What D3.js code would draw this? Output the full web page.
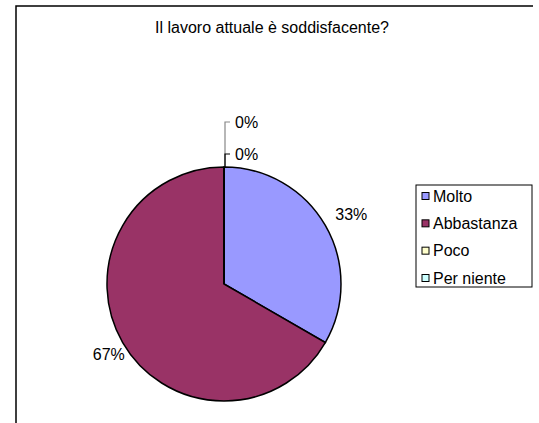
<!DOCTYPE html>
<html>
<head>
<meta charset="utf-8">
<script src="https://cdn.jsdelivr.net/npm/d3@7"></script>
<style>
  body { margin: 0; background: #fff; }
  svg text { font-family: "Liberation Sans", Arial, sans-serif; fill: #000; font-size: 16px; letter-spacing: 0px; }
</style>
</head>
<body>
<svg id="chart" width="539" height="423"></svg>
<script>
// data
var categories = ["Molto", "Abbastanza", "Poco", "Per niente"];
var values = [1, 2, 0, 0];
var colors = ["#9999FF", "#993366", "#FFFFCC", "#CCFFFF"];
var title = "Il lavoro attuale è soddisfacente?";

var svg = d3.select("#chart");
var cx = 224, cy = 284, r = 117;

// open frame (left + top border)
svg.append("path")
    .attr("d", "M16,423V6H533")
    .attr("fill", "none")
    .attr("stroke", "#000")
    .attr("stroke-width", 1.5);

svg.append("text")
    .attr("x", 272).attr("y", 33)
    .attr("text-anchor", "middle")
    .text(title);

var total = d3.sum(values);
var pie = d3.pie().sort(null).value(function (d) { return d; });
var arcs = pie(values);
var arc = d3.arc().innerRadius(0).outerRadius(r);

var g = svg.append("g").attr("transform", "translate(" + cx + "," + cy + ")");

g.selectAll("path.slice")
    .data(arcs)
    .enter().append("path")
    .attr("class", "slice")
    .attr("d", arc)
    .attr("fill", function (d, i) { return colors[i]; })
    .attr("stroke", "#000")
    .attr("stroke-width", 1.5);

var fmt = function (v) { return Math.round(v / total * 100) + "%"; };

// labels for non-empty slices
var labelArc = d3.arc().innerRadius(140).outerRadius(140);
g.selectAll("text.lbl")
    .data(arcs.filter(function (d) { return d.value > 0; }))
    .enter().append("text")
    .attr("class", "lbl")
    .attr("transform", function (d) { return "translate(" + labelArc.centroid(d) + ")"; })
    .attr("text-anchor", "middle")
    .attr("dx", 6)
    .attr("dy", "0.35em")
    .text(function (d) { return fmt(d.value); });

// empty slices: stacked labels on a leader above the pie top
var zeros = arcs.filter(function (d) { return d.value === 0; });
var stackY = [-r - 13, -r - 45];
zeros.slice().reverse().forEach(function (d, k) {
    var y = stackY[k];
    g.append("path")
        .attr("d", "M1," + (-r) + "V" + y + "H6")
        .attr("fill", "none")
        .attr("stroke", k === 0 ? "#000" : "#888")
        .attr("stroke-width", 1.2)
        .lower();
    g.append("text")
        .attr("x", 11).attr("y", y)
        .attr("dy", "0.35em")
        .text(fmt(d.value));
});

// legend
var lg = svg.append("g").attr("transform", "translate(416,185)");
lg.append("rect")
    .attr("width", 116).attr("height", 102)
    .attr("fill", "#fff")
    .attr("stroke", "#000")
    .attr("stroke-width", 1);

var ly = d3.scalePoint().domain(categories).range([11, 93]);
var item = lg.selectAll("g.item")
    .data(categories)
    .enter().append("g")
    .attr("class", "item")
    .attr("transform", function (d) { return "translate(0," + ly(d) + ")"; });
item.append("rect")
    .attr("x", 6).attr("y", -3.5)
    .attr("width", 7).attr("height", 7)
    .attr("fill", function (d, i) { return colors[i]; })
    .attr("stroke", "#000")
    .attr("stroke-width", 1);
item.append("text")
    .attr("x", 17)
    .attr("dy", "0.35em")
    .text(function (d) { return d; });
</script>
</body>
</html>
